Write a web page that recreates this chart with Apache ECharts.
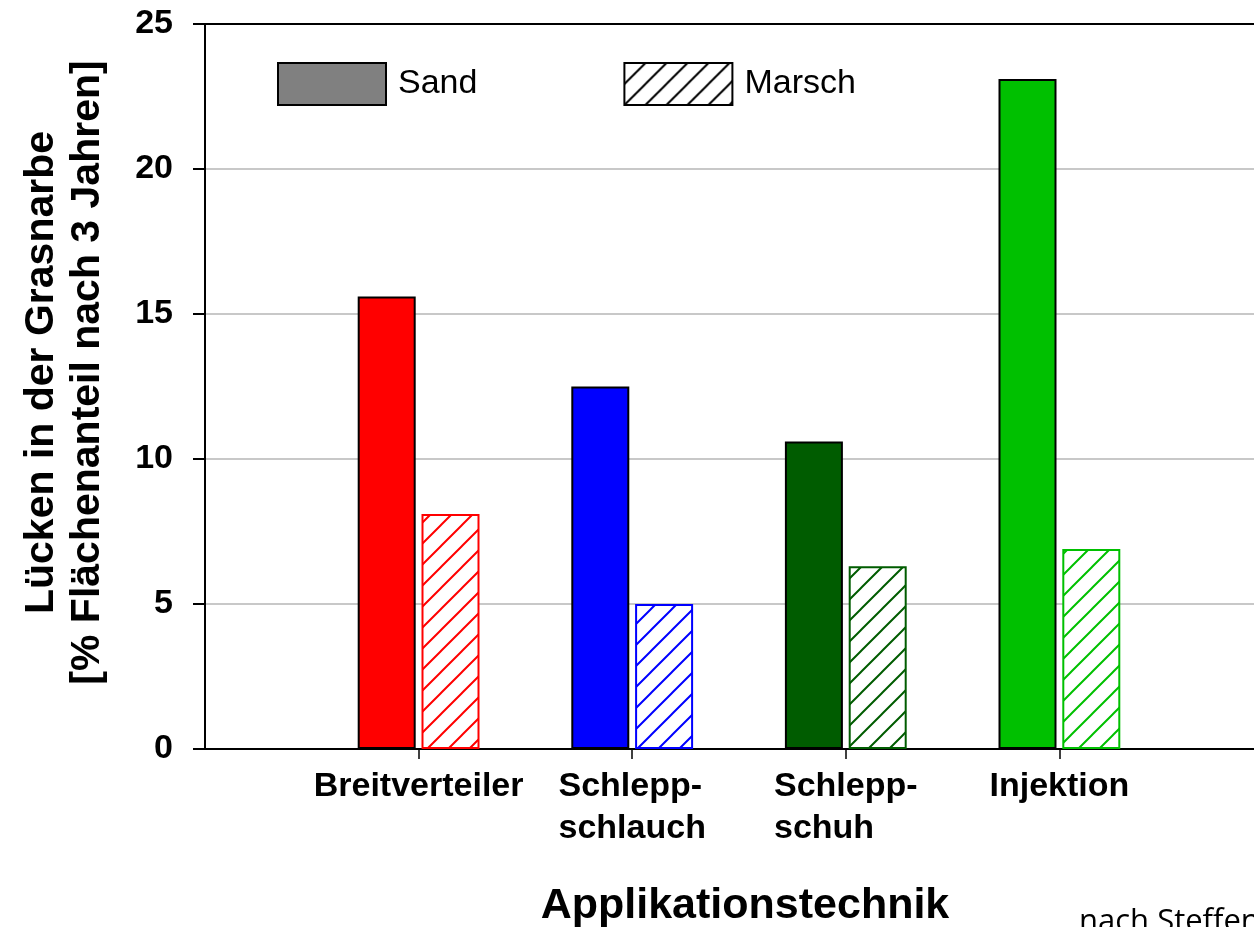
<!DOCTYPE html>
<html>
<head>
<meta charset="utf-8">
<script src="https://cdn.jsdelivr.net/npm/echarts@6/dist/echarts.min.js"></script>
<style>
  html, body { margin: 0; padding: 0; background: #fff; }
  #chart { width: 1254px; height: 927px; }
</style>
</head>
<body>
<div id="chart"></div>
<script>
// data
const categories = ['Breitverteiler', 'Schlepp-\nschlauch', 'Schlepp-\nschuh', 'Injektion'];
const sandValues = [15.6, 12.5, 10.6, 23.1];
const marschValues = [8.1, 5.0, 6.3, 6.9];
const seriesNames = ['Sand', 'Marsch'];
const barColors = ['#ff0000', '#0000ff', '#005c00', '#00c000'];

const FONT = '"Liberation Sans", Arial, sans-serif';

// empty slot before and after the categories (axis starts one step left of the first bars)
const pad = arr => ['-'].concat(arr, ['-']);
const axisCats = [''].concat(categories, ['']);

// diagonal hatch "/" as a repeating canvas pattern
function hatch(color) {
  const s = 21;
  const c = document.createElement('canvas');
  c.width = s; c.height = s;
  const g = c.getContext('2d');
  g.fillStyle = '#fff';
  g.fillRect(0, 0, s, s);
  g.strokeStyle = color;
  g.lineWidth = 2;
  g.beginPath();
  g.moveTo(-2, s + 2); g.lineTo(s + 2, -2);
  g.moveTo(-2, 2); g.lineTo(2, -2);
  g.moveTo(s - 2, s + 2); g.lineTo(s + 2, s - 2);
  g.stroke();
  return { image: c, repeat: 'repeat' };
}

const chart = echarts.init(document.getElementById('chart'));

chart.setOption({
  backgroundColor: '#fff',
  animation: false,
  title: {
    text: 'nach Steffen',
    left: 1079,
    top: 907,
    padding: 0,
    textStyle: { fontFamily: '"Open Sans", "Noto Sans", sans-serif', fontWeight: 'normal', fontSize: 31, color: '#000' }
  },
  legend: {
    data: seriesNames,
    left: 277,
    top: 62,
    padding: 0,
    icon: 'rect',
    itemWidth: 108,
    itemHeight: 42,
    itemGap: 146,
    selectedMode: false,
    textStyle: { fontFamily: FONT, fontSize: 34, color: '#000', padding: [0, 0, 0, 7] }
  },
  grid: { left: 205, top: 24, right: -19, bottom: 178, containLabel: false, outerBoundsMode: 'none' },
  xAxis: [
    {
      type: 'category',
      data: axisCats,
      boundaryGap: false,
      axisLine: { lineStyle: { color: '#000', width: 2 } },
      axisTick: {
        length: 10,
        interval: (i) => i > 0 && i < axisCats.length - 1,
        lineStyle: { color: '#000', width: 1.5 }
      },
      axisLabel: {
        margin: 17,
        interval: 0,
        formatter: v => v.split('\n').map(s => '{a|' + s + '}').join('\n'),
        rich: {
          a: { align: 'left', fontFamily: FONT, fontWeight: 'bold', fontSize: 34, lineHeight: 42, color: '#000' }
        }
      },
      name: 'Applikationstechnik',
      nameLocation: 'middle',
      nameGap: 136,
      nameTextStyle: { fontFamily: FONT, fontWeight: 'bold', fontSize: 43, color: '#000', padding: [0, 0, 0, 12] }
    },
    {
      type: 'category',
      position: 'top',
      data: axisCats,
      boundaryGap: false,
      axisLine: { show: true, lineStyle: { color: '#000', width: 2 } },
      axisTick: { show: false },
      axisLabel: { show: false },
      splitLine: { show: false }
    }
  ],
  yAxis: {
    type: 'value',
    min: 0,
    max: 25,
    interval: 5,
    axisLine: { show: true, lineStyle: { color: '#000', width: 2 } },
    axisTick: { show: true, length: 12, lineStyle: { color: '#000', width: 2 } },
    axisLabel: { margin: 32, fontFamily: FONT, fontWeight: 'bold', fontSize: 34, color: '#000' },
    splitLine: { lineStyle: { color: '#c8c8c8', width: 2 } },
    name: 'Lücken in der Grasnarbe\n[% Flächenanteil nach 3 Jahren]',
    nameLocation: 'middle',
    nameGap: 94,
    nameTextStyle: { fontFamily: FONT, fontWeight: 'bold', fontSize: 41, lineHeight: 46, color: '#000', padding: [0, 0, 0, 28] }
  },
  series: [
    {
      name: seriesNames[0],
      type: 'bar',
      barWidth: 58,
      barGap: '10%',
      itemStyle: { color: '#808080', borderColor: '#000', borderWidth: 2 },
      data: pad(sandValues).map((v, i) => v === '-' ? '-' : {
        value: v,
        itemStyle: { color: barColors[i - 1], borderColor: '#000' }
      })
    },
    {
      name: seriesNames[1],
      type: 'bar',
      barWidth: 58,
      barGap: '10%',
      itemStyle: { color: hatch('#000'), borderColor: '#000', borderWidth: 2 },
      data: pad(marschValues).map((v, i) => v === '-' ? '-' : {
        value: v,
        itemStyle: { color: hatch(barColors[i - 1]), borderColor: barColors[i - 1] }
      })
    }
  ]
});
</script>
</body>
</html>
